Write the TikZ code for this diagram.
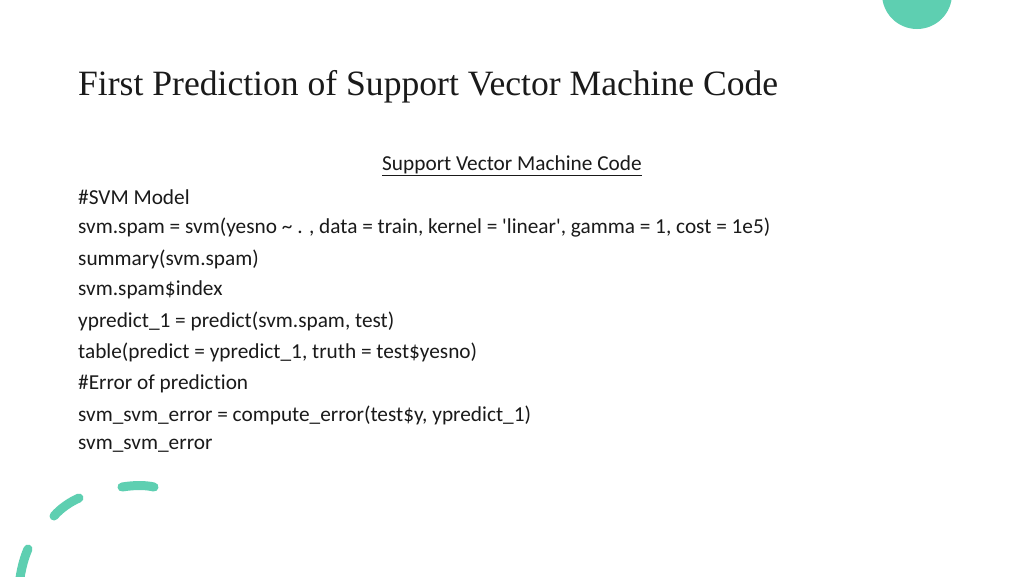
\documentclass[tikz,border=0pt]{standalone}
\usepackage{fontspec}
\setmainfont{Carlito}[Ligatures={NoCommon}]
\newfontfamily\titlefont{Liberation Serif}
\definecolor{teal}{HTML}{5ECFB1}
\definecolor{ink}{HTML}{1A1A1A}
\begin{document}
\begin{tikzpicture}[x=1pt,y=-1pt,
  code/.style={anchor=west,inner sep=0pt,text=ink,font=\fontsize{21.3}{23}\selectfont},
  dashseg/.style={draw=teal,line width=9pt,line cap=round}]
\useasboundingbox (0,0) rectangle (1024,576);
\fill[white] (0,0) rectangle (1024,576);
\begin{scope}
\clip (0,0) rectangle (1024,576);
\fill[teal] (917,-6) circle (35);
\draw[dashseg] (122,487) .. controls (135,485) and (145,485) .. (154,487);
\draw[dashseg] (79,498) .. controls (70,502) and (61,508) .. (54,516);
\draw[dashseg] (28,549) .. controls (25,556) and (22,565) .. (20,578);
\end{scope}
\node[anchor=west,inner sep=0pt,text=ink,font=\titlefont\fontsize{35.6}{38}\selectfont] (title) at (78,87) {First Prediction of Support Vector Machine Code};
\node[code] (hd) at (382,166) {\underline{Support Vector Machine Code}};
\node[code] (l1) at (78,197) {\#SVM Model};
\node[code] (l2) at (78,228) {svm.spam = svm(yesno \textasciitilde\ . , data = train, kernel = \textquotesingle linear\textquotesingle, gamma = 1, cost = 1e5)};
\node[code] (l3) at (78,259) {summary(svm.spam)};
\node[code] (l4) at (78,290) {svm.spam\$index};
\node[code] (l5) at (78,321) {ypredict\_1 = predict(svm.spam, test)};
\node[code] (l6) at (78,352) {table(predict = ypredict\_1, truth = test\$yesno)};
\node[code] (l7) at (78,384) {\#Error of prediction};
\node[code] (l8) at (78,415) {svm\_svm\_error = compute\_error(test\$y, ypredict\_1)};
\node[code] (l9) at (78,446) {svm\_svm\_error};
\end{tikzpicture}
\end{document}
